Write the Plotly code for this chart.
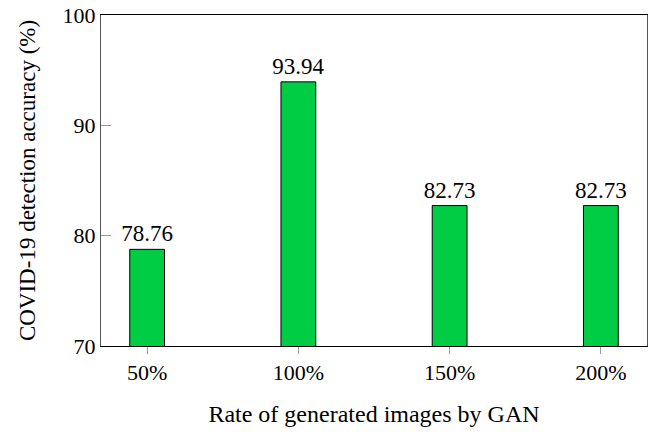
import plotly.graph_objects as go

categories = ["50%", "100%", "150%", "200%"]
accuracy = [78.76, 93.94, 82.73, 82.73]
bar_labels = ["78.76", "93.94", "82.73", "82.73"]
y_ticks = [70, 80, 90, 100]

FONT = "Liberation Serif"

fig = go.Figure(
    go.Bar(
        x=list(range(len(categories))),
        y=accuracy,
        width=0.23,
        marker=dict(color="rgb(0,204,68)", line=dict(color="black", width=1)),
        text=bar_labels,
        textposition="outside",
        constraintext="none",
        textfont=dict(family=FONT, size=23, color="black"),
        cliponaxis=False,
        hoverinfo="skip",
    )
)

fig.update_layout(
    width=654,
    height=434,
    margin=dict(l=101, r=7, t=15, b=88, autoexpand=False),
    plot_bgcolor="white",
    paper_bgcolor="white",
    showlegend=False,
    font=dict(family=FONT, color="black"),
)

fig.update_xaxes(
    range=[-0.305, 3.305],
    tickmode="array",
    tickvals=list(range(len(categories))),
    ticktext=categories,
    ticks="outside",
    ticklen=7,
    tickcolor="#999999",
    tickfont=dict(family=FONT, size=22),
    showline=True,
    linecolor="black",
    linewidth=1,
    mirror=True,
    showgrid=False,
    zeroline=False,
    automargin=False,
    title=dict(text="Rate of generated images by GAN", font=dict(family=FONT, size=24), standoff=20),
)

fig.update_yaxes(
    range=[70, 100],
    tickmode="array",
    tickvals=y_ticks,
    ticks="inside",
    ticklen=10,
    tickcolor="#999999",
    tickfont=dict(family=FONT, size=22),
    showline=True,
    linecolor="#555555",
    linewidth=1,
    mirror=True,
    showgrid=False,
    zeroline=False,
    automargin=False,
    title=dict(text="COVID-19 detection accuracy (%)", font=dict(family=FONT, size=23), standoff=20),
)

post = (
    "document.body.style.margin='0px';"
    "var gd=document.getElementById('{plot_id}');"
    "Plotly.relayout(gd,{width:654,height:434});"
)

fig.write_html("out.html", post_script=post, config={"displayModeBar": False})
